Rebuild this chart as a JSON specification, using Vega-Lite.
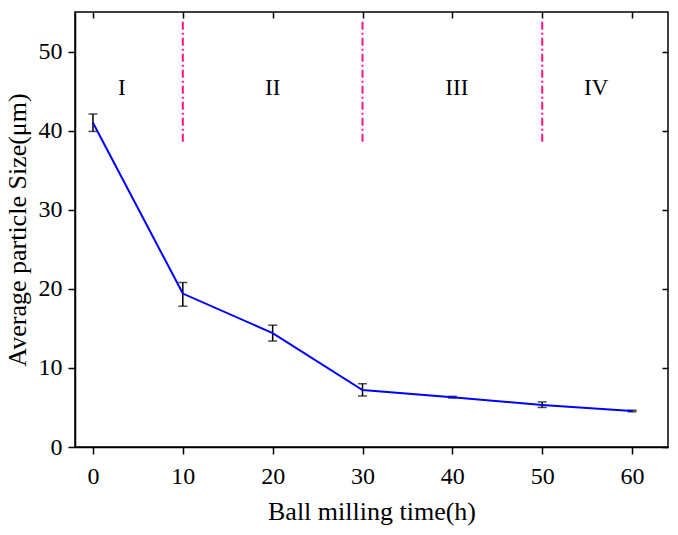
{
  "$schema": "https://vega.github.io/schema/vega-lite/v6.json",
  "autosize": "none",
  "width": 593,
  "height": 435,
  "padding": {"left": 75, "top": 12, "right": 10, "bottom": 88},
  "background": "white",
  "config": {
    "view": {"stroke": "black", "strokeWidth": 1.5},
    "font": "Liberation Serif",
    "axis": {
      "grid": false,
      "domainColor": "black",
      "domainWidth": 1.5,
      "tickColor": "black",
      "tickWidth": 1.5,
      "labelFont": "Liberation Serif",
      "labelFontSize": 24,
      "labelColor": "black",
      "titleFont": "Liberation Serif",
      "titleFontSize": 26,
      "titleFontWeight": "normal",
      "titleColor": "black"
    }
  },
  "datasets": {
    "sizes": [
      {"t": 0, "size": 41.0, "lo": 39.9, "hi": 42.1},
      {"t": 10, "size": 19.4, "lo": 17.8, "hi": 20.8},
      {"t": 20, "size": 14.4, "lo": 13.4, "hi": 15.4},
      {"t": 30, "size": 7.2, "lo": 6.45, "hi": 8.0},
      {"t": 40, "size": 6.3, "lo": 6.2, "hi": 6.4},
      {"t": 50, "size": 5.3, "lo": 5.0, "hi": 5.7},
      {"t": 60, "size": 4.55, "lo": 4.45, "hi": 4.65}
    ],
    "stages": [
      {"t": 3.2, "y": 45.4, "label": "I"},
      {"t": 20, "y": 45.4, "label": "II"},
      {"t": 40.5, "y": 45.4, "label": "III"},
      {"t": 56, "y": 45.4, "label": "IV"}
    ],
    "dividers": [
      {"t": 10, "y0": 38.6, "y1": 53.8},
      {"t": 30, "y0": 38.6, "y1": 53.8},
      {"t": 50, "y0": 38.6, "y1": 53.8}
    ]
  },
  "layer": [
    {
      "data": {"name": "dividers"},
      "mark": {"type": "rule", "color": "#FF148C", "strokeWidth": 2, "strokeDash": [8, 3, 2, 3]},
      "encoding": {
        "x": {"field": "t", "type": "quantitative", "scale": {"domain": [-2, 64], "nice": false, "zero": false}, "axis": null},
        "y": {"field": "y0", "type": "quantitative", "scale": {"domain": [0, 55], "nice": false}, "axis": null},
        "y2": {"field": "y1"}
      }
    },
    {
      "data": {"name": "sizes"},
      "mark": {"type": "errorbar", "ticks": {"size": 9, "thickness": 1.5, "color": "black"}, "rule": {"strokeWidth": 1.5, "color": "black"}},
      "encoding": {
        "x": {
          "field": "t", "type": "quantitative",
          "scale": {"domain": [-2, 64], "nice": false, "zero": false},
          "axis": {"orient": "bottom", "title": "Ball milling time(h)", "values": [0, 10, 20, 30, 40, 50, 60], "tickSize": 7, "labelPadding": 10, "titlePadding": 10}
        },
        "y": {
          "field": "lo", "type": "quantitative",
          "scale": {"domain": [0, 55], "nice": false},
          "axis": {"orient": "left", "title": "Average particle Size(μm)", "values": [0, 10, 20, 30, 40, 50], "tickSize": 7, "labelPadding": 6, "titlePadding": 8}
        },
        "y2": {"field": "hi"}
      }
    },
    {
      "data": {"name": "sizes"},
      "mark": {"type": "line", "color": "#0000FF", "strokeWidth": 2},
      "encoding": {
        "x": {
          "field": "t", "type": "quantitative",
          "scale": {"domain": [-2, 64], "nice": false, "zero": false},
          "axis": {"orient": "top", "title": null, "labels": false, "domain": false, "values": [0, 10, 20, 30, 40, 50, 60], "tickSize": -6}
        },
        "y": {
          "field": "size", "type": "quantitative",
          "scale": {"domain": [0, 55], "nice": false},
          "axis": {"orient": "right", "title": null, "labels": false, "domain": false, "values": [0, 10, 20, 30, 40, 50], "tickSize": -6}
        }
      }
    },
    {
      "data": {"name": "stages"},
      "mark": {"type": "text", "font": "Liberation Serif", "fontSize": 23, "color": "black", "baseline": "middle", "align": "center"},
      "encoding": {
        "x": {"field": "t", "type": "quantitative", "scale": {"domain": [-2, 64], "nice": false, "zero": false}, "axis": null},
        "y": {"field": "y", "type": "quantitative", "scale": {"domain": [0, 55], "nice": false}, "axis": null},
        "text": {"field": "label"}
      }
    }
  ],
  "resolve": {"axis": {"x": "independent", "y": "independent"}}
}
